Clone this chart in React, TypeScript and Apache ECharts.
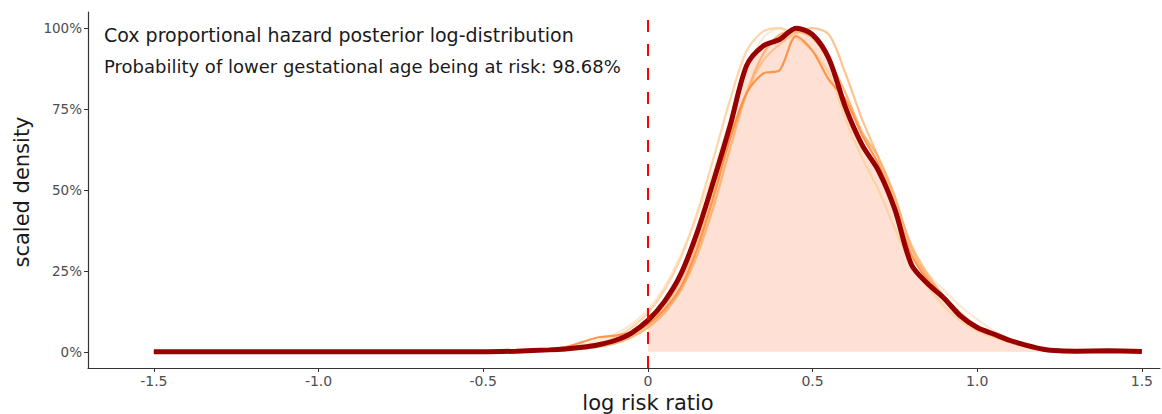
import React, { useEffect, useRef } from "react";
import * as echarts from "echarts";

const xs = [-1.5, -1.0, -0.5, -0.4, -0.3, -0.25, -0.2, -0.15, -0.1, -0.05, 0, 0.05, 0.1, 0.15, 0.2, 0.25, 0.3, 0.35, 0.4, 0.45, 0.5, 0.55, 0.6, 0.65, 0.7, 0.75, 0.8, 0.85, 0.9, 0.95, 1.0, 1.05, 1.1, 1.15, 1.2, 1.25, 1.3, 1.4, 1.5];

const mainDensity = [0, 0, 0, 0.002, 0.006, 0.009, 0.014, 0.022, 0.035, 0.058, 0.097, 0.155, 0.24, 0.37, 0.53, 0.7, 0.885, 0.945, 0.965, 1.0, 0.98, 0.905, 0.755, 0.64, 0.56, 0.44, 0.27, 0.21, 0.165, 0.11, 0.075, 0.055, 0.035, 0.02, 0.008, 0.003, 0.002, 0.003, 0.001];

const chain1 = [0, 0, 0, 0.002, 0.006, 0.01, 0.016, 0.026, 0.045, 0.075, 0.12, 0.19, 0.29, 0.43, 0.6, 0.78, 0.93, 0.99, 1.0, 0.97, 0.93, 0.86, 0.72, 0.6, 0.5, 0.38, 0.27, 0.2, 0.14, 0.095, 0.065, 0.045, 0.03, 0.016, 0.007, 0.003, 0.001, 0.001, 0];
const chain2 = [0, 0, 0, 0.001, 0.004, 0.007, 0.012, 0.019, 0.03, 0.05, 0.085, 0.14, 0.22, 0.34, 0.5, 0.66, 0.8, 0.9, 0.95, 0.985, 1.0, 0.98, 0.86, 0.72, 0.6, 0.47, 0.33, 0.24, 0.17, 0.12, 0.08, 0.055, 0.035, 0.018, 0.008, 0.003, 0.001, 0.002, 0];
const chain3 = [0, 0, 0, 0.003, 0.008, 0.015, 0.03, 0.045, 0.05, 0.06, 0.085, 0.13, 0.2, 0.32, 0.48, 0.66, 0.8, 0.86, 0.87, 0.975, 0.93, 0.84, 0.78, 0.67, 0.58, 0.45, 0.3, 0.22, 0.16, 0.105, 0.07, 0.05, 0.032, 0.017, 0.007, 0.003, 0.001, 0.002, 0];
const chain4 = [0, 0, 0, 0.001, 0.004, 0.006, 0.01, 0.016, 0.026, 0.045, 0.075, 0.12, 0.19, 0.3, 0.45, 0.63, 0.8, 0.92, 0.98, 0.99, 0.97, 0.9, 0.8, 0.68, 0.6, 0.48, 0.32, 0.23, 0.17, 0.115, 0.075, 0.05, 0.03, 0.016, 0.006, 0.002, 0.001, 0.001, 0];
const chain5 = [0, 0, 0, 0.003, 0.01, 0.015, 0.022, 0.035, 0.055, 0.085, 0.13, 0.2, 0.3, 0.42, 0.56, 0.72, 0.87, 0.97, 1.0, 0.98, 0.93, 0.84, 0.72, 0.6, 0.49, 0.4, 0.3, 0.24, 0.19, 0.14, 0.1, 0.065, 0.04, 0.02, 0.008, 0.003, 0.001, 0.001, 0];

const chains = [chain5, chain1, chain2, chain4, chain3];
const chainColors = ["#fee6ce", "#fdd0a2", "#fdbe85", "#fdae6b", "#fd8d3c"];

const xTicks = [-1.5, -1.0, -0.5, 0, 0.5, 1.0, 1.5];
const yTicks = [0, 0.25, 0.5, 0.75, 1.0];

const titleText = "Cox proportional hazard posterior log-distribution";
const subtitleText = "Probability of lower gestational age being at risk: 98.68%";
const xName = "log risk ratio";
const yName = "scaled density";

const FONT = "DejaVu Sans";

export default function App() {
  const ref = useRef<HTMLDivElement>(null);
  useEffect(() => {
    document.body.style.margin = "0";
    const chart = echarts.init(ref.current!, null, { renderer: "svg" });
    const pair = (ys: number[]) => xs.map((x, i) => [x, ys[i]]);
    const fillData = xs.map((x, i) => [x, mainDensity[i]]).filter((d) => d[0] >= 0);
    const option: any = {
      animation: false,
      textStyle: { fontFamily: FONT },
      grid: { left: 88, right: 2, top: 12, bottom: 46 },
      xAxis: {
        type: "value",
        min: -1.7,
        max: 1.555,
        splitLine: { show: false },
        axisLine: { show: true, onZero: false, lineStyle: { color: "#333333", width: 1.2 } },
        axisTick: { show: true, customValues: xTicks, length: 4, lineStyle: { color: "#333333" } },
        axisLabel: {
          customValues: xTicks,
          color: "#4d4d4d",
          fontSize: 14,
          fontFamily: FONT,
          margin: 6,
          formatter: (v: number) => (v === 0 ? "0" : v.toFixed(1)),
        },
      },
      yAxis: {
        type: "value",
        min: -0.05,
        max: 1.05,
        splitLine: { show: false },
        axisLine: { show: true, onZero: false, lineStyle: { color: "#333333", width: 1.2 } },
        axisTick: { show: true, customValues: yTicks, length: 4, lineStyle: { color: "#333333" } },
        axisLabel: {
          customValues: yTicks,
          color: "#4d4d4d",
          fontSize: 13.5,
          fontFamily: FONT,
          margin: 6,
          formatter: (v: number) => Math.round(v * 100) + "%",
        },
      },
      series: [
        {
          type: "line",
          data: fillData,
          smooth: 0.3,
          symbol: "none",
          lineStyle: { width: 0, opacity: 0 },
          areaStyle: { color: "#fee0d5", opacity: 1 },
          z: 1,
        },
        ...chains.map((c, i) => ({
          type: "line",
          data: pair(c),
          smooth: 0.3,
          symbol: "none",
          lineStyle: { width: 2.2, color: chainColors[i], opacity: 0.9 },
          z: 2,
        })),
        {
          type: "line",
          data: pair(mainDensity),
          smooth: 0.3,
          symbol: "none",
          lineStyle: { width: 5, color: "#990000" },
          z: 3,
          markLine: {
            silent: true,
            symbol: "none",
            label: { show: false },
            lineStyle: { color: "#ff0000", width: 2, type: [12, 12] },
            data: [{ xAxis: 0 }],
          },
        },
      ],
      graphic: [
        {
          type: "text",
          left: 104,
          top: 25,
          style: { text: titleText, fontSize: 19, fontFamily: FONT, fill: "#1a1a1a" },
        },
        {
          type: "text",
          left: 104,
          top: 57,
          style: { text: subtitleText, fontSize: 18, fontFamily: FONT, fill: "#1a1a1a" },
        },
        {
          type: "text",
          x: 648,
          y: 403,
          style: { text: xName, fontSize: 21, fontFamily: FONT, fill: "#1a1a1a", align: "center", verticalAlign: "middle" },
        },
        {
          type: "text",
          x: 22,
          y: 192,
          rotation: Math.PI / 2,
          style: { text: yName, fontSize: 21, fontFamily: FONT, fill: "#1a1a1a", align: "center", verticalAlign: "middle" },
        },
      ],
    };
    chart.setOption(option);
    return () => chart.dispose();
  }, []);
  return <div ref={ref} style={{ width: 1162, height: 414 }} />;
}
